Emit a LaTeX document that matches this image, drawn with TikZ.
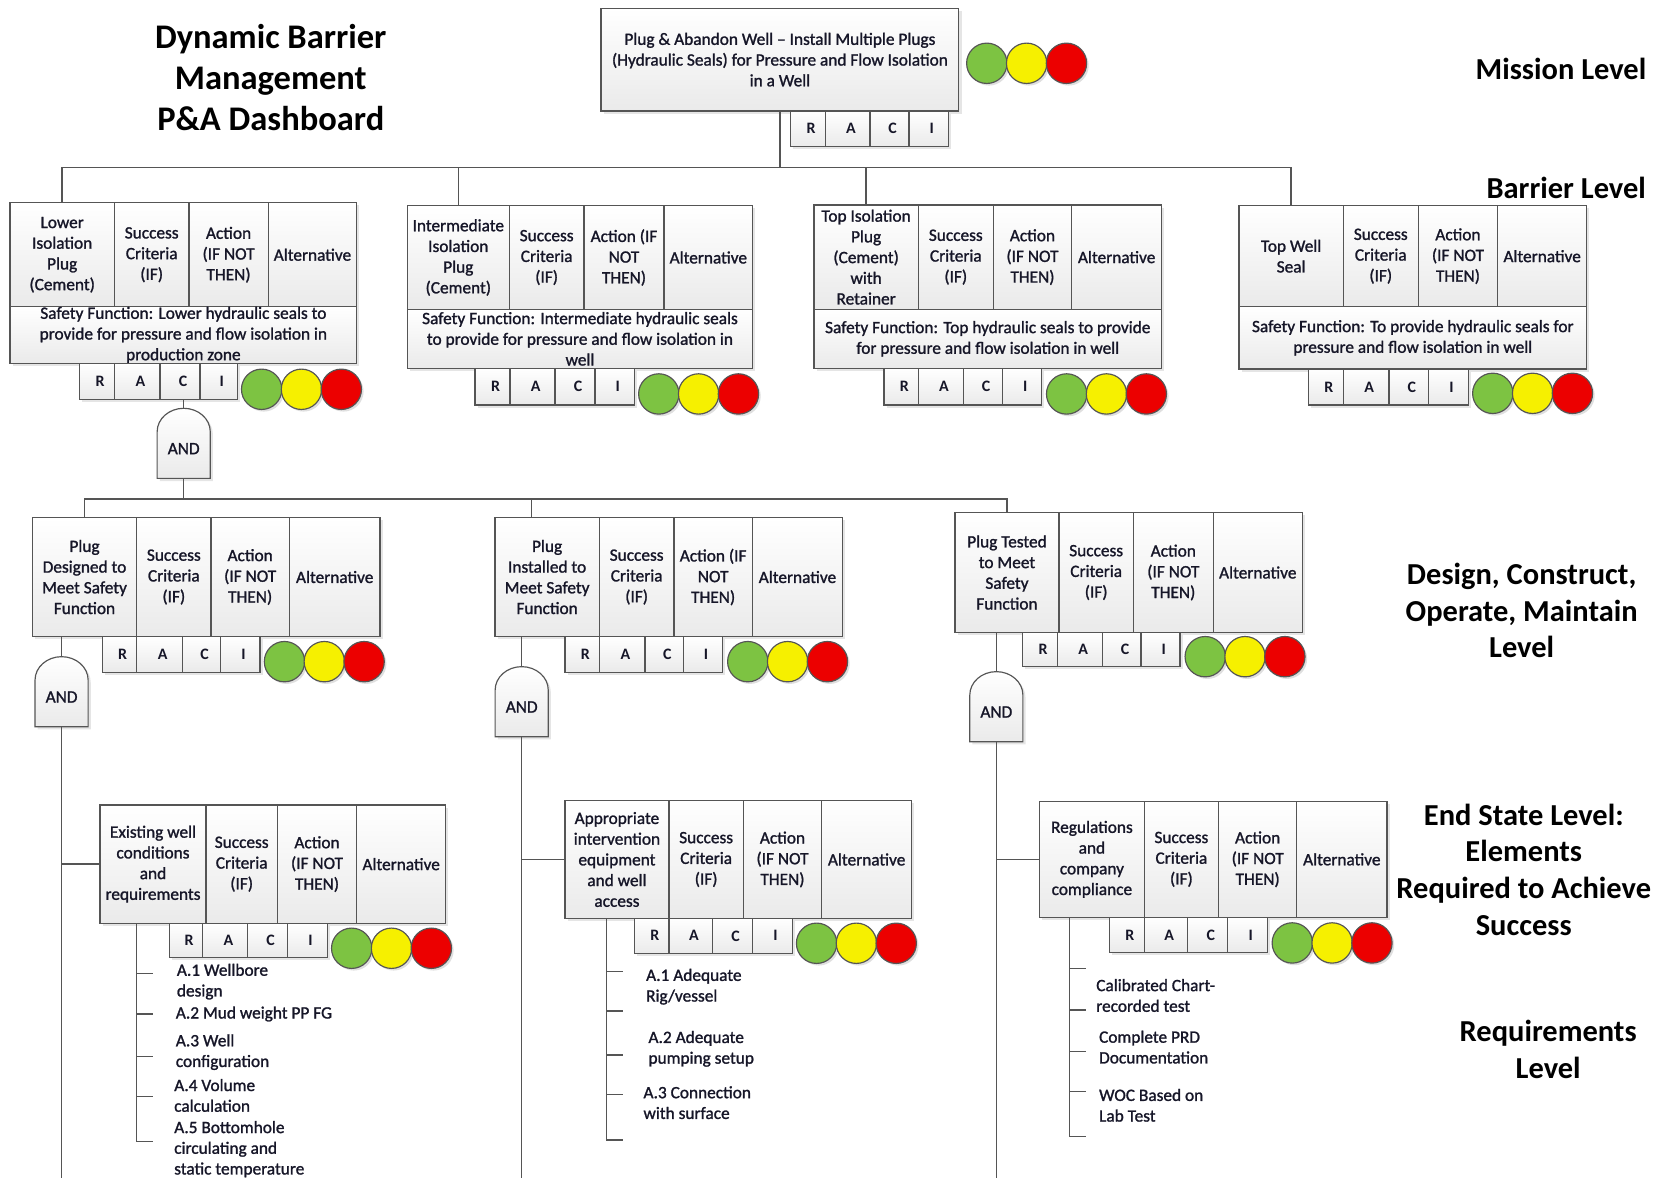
\documentclass[tikz,border=0pt]{standalone}
\usepackage{fontspec}
\setmainfont{Carlito}
\newfontfamily\boxfam{Carlito}[FakeBold=1.3]
\usetikzlibrary{shadows}
\definecolor{bord}{RGB}{85,85,85}
\definecolor{cellbot}{RGB}{234,234,234}
\definecolor{txt}{RGB}{22,22,40}
\definecolor{lgreen}{RGB}{125,195,66}
\definecolor{lyellow}{RGB}{246,240,0}
\definecolor{lred}{RGB}{236,0,0}
\newcommand\boxfont{\boxfam\fontsize{16.3}{19.5}\selectfont}
\newcommand\racifont{\bfseries\fontsize{15}{18}\selectfont}
\newcommand\labfont{\bfseries\fontsize{28.7}{34.5}\selectfont}
\newcommand\titlefont{\bfseries\fontsize{32.5}{39}\selectfont}
\tikzset{
 cell/.style={draw=bord, line width=1.1pt, top color=white, bottom color=cellbot,
   anchor=north west, inner sep=0pt, outer sep=0pt,
   drop shadow={opacity=0.2, shadow xshift=2.5pt, shadow yshift=-2.5pt}},
 celltext/.style={text=txt, font=\boxfont, align=center, inner sep=0pt},
 racitext/.style={text=txt, font=\racifont, inner sep=0pt, xshift=3pt},
 lamp/.style={circle, minimum size=38pt, inner sep=0pt, draw=bord, line width=1.1pt,
   drop shadow={opacity=0.25, shadow xshift=2pt, shadow yshift=-2pt}},
 gate/.style={draw=bord, line width=1.1pt, top color=white, bottom color=cellbot,
   drop shadow={opacity=0.2, shadow xshift=2.5pt, shadow yshift=-2.5pt}},
 conn/.style={draw=bord, line width=1.3pt},
 lab/.style={font=\labfont, align=center, text=black, inner sep=0pt},
 req/.style={font=\boxfont, align=left, text=txt, anchor=west, inner sep=0pt},
}
% cell: name, x1, y1, x2, y2, text
\newcommand\cellnode[6]{%
 \node[cell, minimum width={(#4-#2)*1pt}, minimum height={(#5-#3)*1pt}] (#1) at (#2,#3) {};
 \node[celltext] (#1-t) at (#1.center) {#6};}
\newcommand\racicell[6]{%
 \node[cell, minimum width={(#4-#2)*1pt}, minimum height={(#5-#3)*1pt}] (#1) at (#2,#3) {};
 \node[racitext] (#1-t) at (#1.center) {#6};}
\def\acttext{Action\\(IF NOT\\THEN)}
% four columns: prefix, x0..x4, ytop, ybot, first text
\newcommand\fourcol[9]{%
 \cellnode{#1-a}{#2}{#7}{#3}{#8}{#9}
 \cellnode{#1-s}{#3}{#7}{#4}{#8}{Success\\Criteria\\(IF)}
 \cellnode{#1-n}{#4}{#7}{#5}{#8}{\acttext}
 \cellnode{#1-l}{#5}{#7}{#6}{#8}{Alternative}}
% RACI: prefix, x0..x4, ytop, ybot
\newcommand\raci[8]{%
 \racicell{#1-rR}{#2}{#7}{#3}{#8}{R}
 \racicell{#1-rA}{#3}{#7}{#4}{#8}{A}
 \racicell{#1-rC}{#4}{#7}{#5}{#8}{C}
 \racicell{#1-rI}{#5}{#7}{#6}{#8}{I}}
% lights: prefix, x green, y
\newcommand\lights[3]{%
 \node[lamp, fill=lgreen] (#1-lg) at (#2,#3) {};
 \node[lamp, fill=lyellow, xshift=37.5pt] (#1-ly) at (#2,#3) {};
 \node[lamp, fill=lred, xshift=75pt] (#1-lr) at (#2,#3) {};}
% AND gate: name, x centre, y top
\newcommand\andgate[3]{%
 \path[gate] (#2-25,#3+66) -- (#2-25,#3+22) .. controls (#2-25,#3+9.9) and (#2-13.8,#3) .. (#2,#3)
   .. controls (#2+13.8,#3) and (#2+25,#3+9.9) .. (#2+25,#3+22) -- (#2+25,#3+66) -- cycle;
 \node[celltext] (#1) at (#2,#3+38) {AND};
 \coordinate (#1-t) at (#2,#3);
 \coordinate (#1-b) at (#2,#3+66);}

\begin{document}
\begin{tikzpicture}[x=1pt,y=-1pt]
\useasboundingbox (0,0) rectangle (1568,1109);
\fill[white] (0,0) rectangle (1568,1109);

% ---------- titles ----------
\node[font=\titlefont, align=center, text=black, inner sep=0pt] (title) at (255,73) {Dynamic Barrier\\Management\\P\&A Dashboard};
\node[lab] (lmis) at (1470,65) {Mission Level};
\node[lab] (lbar) at (1475,177) {Barrier Level};
\node[lab] (ldes) at (1433,575) {Design, Construct,\\Operate, Maintain\\Level};
\node[lab] (lend) at (1435,819) {End State Level:\\Elements\\Required to Achieve\\Success};
\node[lab] (lreq) at (1458,988) {Requirements\\Level};

% ---------- mission ----------
\cellnode{mis}{566}{7.8}{903}{104.5}{Plug \& Abandon Well – Install Multiple Plugs\\(Hydraulic Seals) for Pressure and Flow Isolation\\in a Well}
\raci{mis}{744.3}{777.3}{819.3}{856}{892.9}{104.5}{138.1}
\lights{mis}{929.3}{59.6}

% ---------- barrier level ----------
\fourcol{b1}{9.4}{107.7}{178}{252.5}{336}{191}{288.8}{Lower\\Isolation\\Plug\\(Cement)}
\cellnode{b1-f}{9.4}{288.8}{336}{342}{Safety Function: Lower hydraulic seals to\\provide for pressure and flow isolation in\\production zone}
\raci{b1}{74.7}{107.7}{150.7}{188.3}{223.5}{342}{376}
\lights{b1}{246.4}{366.6}

\def\acttext{Action (IF\\NOT\\THEN)}
\fourcol{b2}{383.6}{479.6}{550}{625.3}{708.8}{193.7}{291.3}{Intermediate\\Isolation\\Plug\\(Cement)}
\def\acttext{Action\\(IF NOT\\THEN)}
\cellnode{b2-f}{383.6}{291.3}{708.8}{346.9}{Safety Function: Intermediate hydraulic seals\\to provide for pressure and flow isolation in\\well}
\raci{b2}{447.3}{480.3}{522.6}{560.3}{597.3}{346.9}{381.4}
\lights{b2}{620.4}{371}

\fourcol{b3}{766.5}{864.8}{935.4}{1009.2}{1094}{193}{291.3}{Top Isolation\\Plug\\(Cement)\\with\\Retainer}
\cellnode{b3-f}{766.5}{291.3}{1094}{346.9}{Safety Function: Top hydraulic seals to provide\\for pressure and flow isolation in well}
\raci{b3}{832.5}{864.8}{907.2}{943.9}{981}{346.9}{381.4}
\lights{b3}{1004.5}{371}

\fourcol{b4}{1166.8}{1265}{1335.6}{1410.4}{1494.2}{193.7}{288.8}{Top Well\\Seal}
\cellnode{b4-f}{1166.8}{288.8}{1494.2}{347.5}{Safety Function: To provide hydraulic seals for\\pressure and flow isolation in well}
\raci{b4}{1232}{1265}{1308}{1345}{1382.7}{347.5}{381.4}
\lights{b4}{1405.8}{370.4}

\andgate{g1}{173}{384.5}

% ---------- design / construct level ----------
\fourcol{d1}{30.5}{128.7}{198.7}{272.5}{357.9}{487.2}{599.6}{Plug\\Designed to\\Meet Safety\\Function}
\raci{d1}{96.4}{128.7}{171.7}{207.8}{244.8}{599.6}{633}
\lights{d1}{267.9}{623.1}

\def\acttext{Action (IF\\NOT\\THEN)}
\fourcol{d2}{466.1}{564.4}{634.7}{708.5}{793.5}{487.2}{599.6}{Plug\\Installed to\\Meet Safety\\Function}
\def\acttext{Action\\(IF NOT\\THEN)}
\raci{d2}{532}{564.4}{607.4}{643.5}{680.2}{599.6}{633}
\lights{d2}{704.2}{623.1}

\fourcol{d3}{899.3}{997.3}{1067.3}{1142.6}{1226.4}{482.8}{595.5}{Plug Tested\\to Meet\\Safety\\Function}
\raci{d3}{963}{995.7}{1038.4}{1074.5}{1111.2}{595.5}{627.8}
\lights{d3}{1135}{618.4}

\andgate{g2}{58}{618.4}
\andgate{g3}{491.3}{627.8}
\andgate{g4}{938.3}{632.5}

% ---------- end state level ----------
\fourcol{e1}{94.2}{194}{261.2}{335.9}{419.7}{758.1}{869.5}{Existing well\\conditions\\and\\requirements}
\raci{e1}{159.5}{190.9}{233.2}{270.6}{308.3}{869.5}{901.8}
\lights{e1}{331.2}{893}

\fourcol{e2}{532}{630}{700}{773.8}{858.5}{754}{864.8}{Appropriate\\intervention\\equipment\\and well\\access}
\raci{e2}{597.3}{630}{671.1}{708.5}{746.1}{864.8}{897.8}
\lights{e2}{769}{888.3}

\fourcol{e3}{979.1}{1077.5}{1147.6}{1221.2}{1306.1}{754.5}{864}{Regulations\\and\\company\\compliance}
\raci{e3}{1044.6}{1077.5}{1118.6}{1156.1}{1193.7}{864}{897}
\lights{e3}{1217}{888}

% ---------- requirements ----------
\node[req] (q11) at (166.4,924.4) {A.1 Wellbore\\design};
\node[req] (q12) at (165.4,954.9) {A.2 Mud weight PP FG};
\node[req] (q13) at (165.4,990.8) {A.3 Well\\configuration};
\node[req] (q14) at (163.9,1031.6) {A.4 Volume\\calculation};
\node[req] (q15) at (163.9,1082.2) {A.5 Bottomhole\\circulating and\\static temperature};

\node[req] (q21) at (608.3,929.2) {A.1 Adequate\\Rig/vessel};
\node[req] (q22) at (610.5,987.7) {A.2 Adequate\\pumping setup};
\node[req] (q23) at (605.8,1038.4) {A.3 Connection\\with surface};

\node[req] (q31) at (1032.2,937.5) {Calibrated Chart-\\recorded test};
\node[req] (q32) at (1034.9,986.1) {Complete PRD\\Documentation};
\node[req] (q33) at (1034.9,1040.9) {WOC Based on\\Lab Test};

% ---------- connectors ----------
\coordinate (busA) at (0,158);
\draw[conn] (mis.south) -- (mis.south |- busA);
\draw[conn] (b1-a.north) -- (b1-a.north |- busA) -- (b4-a.north |- busA) -- (b4-a.north);
\draw[conn] (b2-a.north) -- (b2-a.north |- busA);
\draw[conn] (b3-a.north) -- (b3-a.north |- busA);

\coordinate (busB) at (0,470);
\draw[conn] (g1-t) -- (g1-t |- b1-rC.south);
\draw[conn] (g1-b) -- (g1-b |- busB);
\draw[conn] (d1-a.north) -- (d1-a.north |- busB) -- (d3-a.north |- busB) -- (d3-a.north);
\coordinate (d2in) at (500.6,487.2);
\draw[conn] (d2in) -- (d2in |- busB);

\draw[conn] (g2-t) -- (g2-t |- d1-a.south);
\draw[conn] (g3-t) -- (g3-t |- d2-a.south);
\draw[conn] (g4-t) -- (g4-t |- d3-a.south);

\coordinate (end1) at (58,1109);
\coordinate (end2) at (491.3,1109);
\coordinate (end3) at (938.3,1109);
\draw[conn] (g2-b) -- (end1);
\draw[conn] (g3-b) -- (end2);
\draw[conn] (g4-b) -- (end3);
\draw[conn] (e1-a.west) -- (e1-a.west -| end1);
\draw[conn] (e2-a.west) -- (e2-a.west -| end2);
\draw[conn] (e3-a.west) -- (e3-a.west -| end3);

% requirement brackets
\coordinate (e1q) at (128.7,1075);
\draw[conn] (e1q |- e1-a.south) -- (e1q) -- ++(15.7,0);
\foreach \yy in {916.6,954.9,995,1032.7} \draw[conn] (128.7,\yy) -- ++(15.7,0);
\coordinate (e2q) at (571.3,1073.6);
\draw[conn] (e2q |- e2-a.south) -- (e2q) -- ++(15.7,0);
\foreach \yy in {915,952,993.5,1030.5} \draw[conn] (571.3,\yy) -- ++(15.7,0);
\coordinate (e3q) at (1007,1070.4);
\draw[conn] (e3q |- e3-a.south) -- (e3q) -- ++(15.5,0);
\foreach \yy in {911.9,951.1,990.4,1028} \draw[conn] (1007,\yy) -- ++(15.5,0);
\end{tikzpicture}
\end{document}
